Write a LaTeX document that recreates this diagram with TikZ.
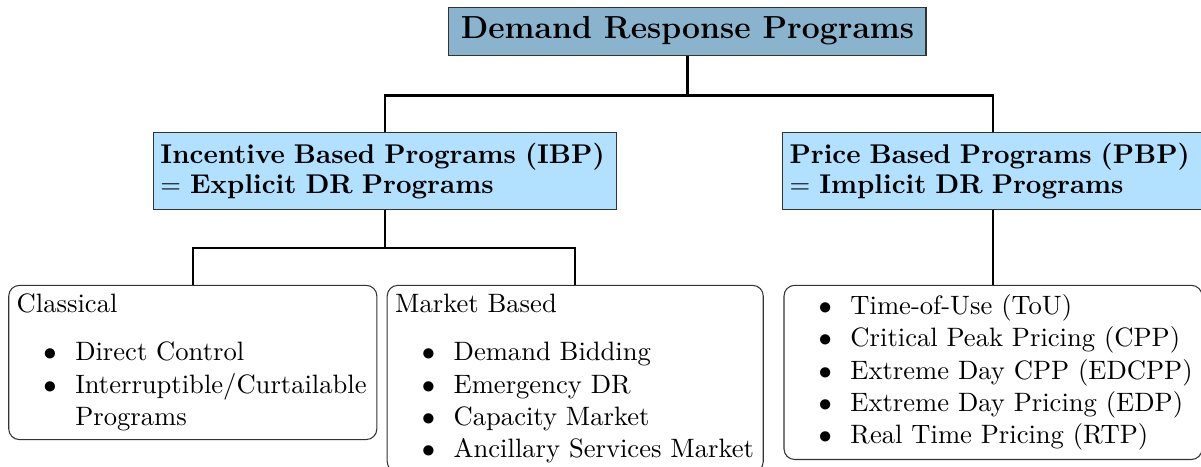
\documentclass[tikz,border=0pt]{standalone}
\usepackage{amsmath,amssymb}
\usepackage{xcolor}
\usepackage{enumitem}
\usetikzlibrary{shapes.geometric, arrows}
\definecolor{rootblue}{RGB}{138,180,205}
\definecolor{groupblue}{RGB}{178,225,255}
\setlist[itemize]{label=$\bullet$, leftmargin=22pt, labelsep=7pt, itemsep=0.2pt, parsep=0pt, topsep=0pt, partopsep=0pt}
\tikzstyle{rootbox} = [rectangle, 
minimum width=179.4pt, 
minimum height=18pt,
text centered, 
draw=black!80, 
fill=rootblue,
font=\large\bfseries]
\tikzstyle{groupbox} = [rectangle, 
minimum height=29pt, 
inner xsep=2.5pt,
align=left, 
draw=black!80, 
fill=groupblue,
font=\fontsize{10.2pt}{11.3pt}\selectfont\bfseries]
\tikzstyle{listbox} = [rectangle, 
rounded corners, 
inner xsep=3pt,
draw=black!80]
\tikzstyle{link} = [thick]

\begin{document}
\begin{tikzpicture}[node distance=38pt]
\useasboundingbox (-258.5pt,11.7pt) rectangle (193.1pt,-163.6pt);

\node (drp) [rootbox] {Demand Response Programs};
\node (ibp) [groupbox, below of=drp, anchor=north, xshift=-113.6pt, text width=169.1pt] {Incentive Based Programs (IBP)\\ $=$ Explicit DR Programs};
\node (pbp) [groupbox, below of=drp, anchor=north, xshift=114.9pt, text width=153pt] {Price Based Programs (PBP)\\ $=$ Implicit DR Programs};
\node (classical) [listbox, below of=ibp, anchor=north, node distance=42.7pt, xshift=-72.4pt] {\begin{minipage}{132.4pt}\raggedright
Classical\par\vspace{6pt}
\begin{itemize}
\item Direct Control
\item Interruptible/Curtailable Programs
\end{itemize}
\end{minipage}};
\node (market) [listbox, below of=ibp, anchor=north, node distance=42.7pt, xshift=71.4pt] {\begin{minipage}{135.4pt}\raggedright
Market Based\par\vspace{6pt}
\begin{itemize}
\item Demand Bidding
\item Emergency DR
\item Capacity Market
\item Ancillary Services Market
\end{itemize}
\end{minipage}};
\node (prices) [listbox, below of=pbp, anchor=north, node distance=42.7pt] {\begin{minipage}{151.2pt}\raggedright
\begin{itemize}
\item Time-of-Use (ToU)
\item Critical Peak Pricing (CPP)
\item Extreme Day CPP (EDCPP)
\item Extreme Day Pricing (EDP)
\item Real Time Pricing (RTP)
\end{itemize}
\end{minipage}};

\coordinate (split) at ([yshift=-15pt]drp.south);
\coordinate (ibpsplit) at ([yshift=-14.3pt]ibp.south);

\draw [link] (drp) -- (split);
\draw [link] (ibp) |- (split) -| (pbp);
\draw [link] (ibp) -- (ibpsplit);
\draw [link] (classical) |- (ibpsplit) -| (market);
\draw [link] (pbp) -- (prices);

\end{tikzpicture}
\end{document}
